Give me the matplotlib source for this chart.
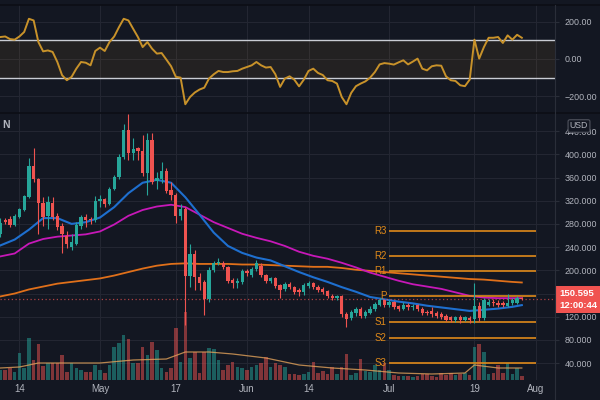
import numpy as np
import matplotlib.pyplot as plt

# day index: 0 = Apr 10, one candle per day
opens = [262, 286, 288, 278, 292, 304, 327, 380, 357, 316, 294, 316, 294, 276, 260, 241, 246, 276, 292, 289,
         286, 319, 323, 314, 341, 361, 396, 442, 403, 410, 405, 368, 425, 354, 357, 372, 338, 330, 294, 305,
         190, 228, 189, 179, 150, 200, 213, 213, 205, 184, 178, 180, 199, 192, 202, 207, 192, 182, 186, 175,
         168, 177, 171, 166, 163, 173, 178, 172, 167, 164, 156, 152, 155, 125, 117, 126, 134, 121, 127, 134,
         141, 148, 140, 145, 138, 134, 140, 136, 140, 133, 128, 130, 126, 124, 122, 119, 114, 120, 115, 118,
         116, 138, 117, 141, 146, 144, 143, 139, 143, 144, 152]
highs = [290, 290, 294, 297, 307, 330, 393, 411, 360, 326, 328, 326, 298, 282, 268, 262, 283, 295, 297, 292,
         328, 330, 325, 344, 365, 400, 453, 469, 428, 412, 433, 436, 436, 370, 387, 376, 352, 333, 315, 310,
         246, 235, 195, 184, 206, 216, 222, 216, 207, 187, 186, 202, 202, 206, 217, 212, 194, 189, 189, 177,
         180, 180, 173, 169, 178, 181, 180, 175, 171, 166, 159, 158, 157, 128, 131, 137, 137, 131, 138, 146,
         152, 150, 148, 147, 141, 146, 143, 142, 142, 136, 131, 137, 130, 128, 124, 122, 122, 123, 122, 121,
         178, 145, 152, 150, 150, 148, 147, 159, 152, 156, 154]
lows = [258, 280, 275, 276, 290, 302, 324, 352, 262, 276, 272, 286, 270, 229, 238, 235, 244, 272, 275, 280,
        283, 310, 310, 312, 338, 358, 392, 390, 390, 390, 362, 330, 348, 341, 350, 333, 321, 281, 287, 105,
        172, 166, 166, 123, 145, 197, 209, 202, 178, 170, 170, 177, 190, 188, 199, 189, 178, 178, 170, 152,
        165, 168, 160, 156, 158, 170, 168, 162, 160, 152, 149, 149, 119, 102, 114, 121, 117, 118, 124, 130,
        138, 136, 137, 133, 130, 132, 132, 131, 130, 123, 123, 120, 118, 116, 112, 111, 111, 110, 112, 110,
        110, 112, 115, 138, 138, 137, 136, 136, 140, 142, 148]
closes = [281, 283, 278, 293, 305, 328, 380, 357, 316, 292, 317, 292, 275, 262, 245, 248, 278, 292, 287, 286,
          320, 323, 314, 341, 361, 396, 442, 402, 409, 405, 368, 425, 353, 359, 372, 337, 330, 294, 305, 190,
          228, 189, 178, 150, 200, 213, 215, 205, 181, 178, 182, 199, 195, 203, 212, 192, 182, 186, 173, 166,
          177, 171, 163, 163, 174, 178, 172, 166, 163, 156, 153, 155, 124, 116, 128, 134, 121, 128, 134, 142,
          148, 140, 146, 137, 134, 141, 136, 139, 133, 126, 126, 125, 121, 120, 115, 115, 119, 114, 119, 114,
          138, 117, 148, 146, 143, 141, 141, 144, 149, 152, 150.595]
volumes = [10, 10, 12, 8, 27, 12, 42, 20, 36, 14, 17, 17, 17, 25, 8, 17, 12, 10, 8, 8,
           15, 10, 7, 15, 33, 37, 45, 41, 17, 17, 33, 25, 38, 30, 12, 8, 12, 52, 18, 68,
           22, 28, 7, 28, 32, 31, 20, 10, 15, 18, 13, 12, 10, 13, 15, 17, 23, 13, 17, 15,
           13, 6, 6, 5, 6, 8, 18, 7, 9, 6, 13, 6, 13, 26, 5, 7, 21, 9, 8, 15,
           10, 17, 10, 5, 4, 4, 4, 3, 4, 6, 6, 4, 3, 7, 5, 7, 5, 6, 7, 5,
           33, 36, 28, 6, 7, 15, 7, 17, 6, 12, 4]
cci = [118, 121, 107, 104, 121, 145, 216, 207, 91, 41, 46, 38, -16, -87, -114, -96, -52, -16, -20, -34,
       43, 61, 43, 91, 121, 171, 216, 207, 162, 118, 64, 91, 55, 29, 32, -3, -39, -96, -100, -243,
       -204, -180, -164, -154, -105, -82, -64, -70, -70, -66, -64, -52, -43, -34, -16, -34, -46, -43, -82, -150,
       -105, -93, -111, -147, -111, -64, -52, -75, -86, -114, -118, -132, -204, -243, -182, -146, -132, -120, -100, -70,
       -29, -22, -25, -30, -18, -7, -29, -14, 2, -52, -61, -39, -34, -36, -93, -114, -118, -141, -146, -111,
       104, 2, 64, 114, 114, 118, 86, 127, 104, 130, 114]

ma_days = [0, 3, 6, 9, 12, 15, 18, 21, 24, 27, 30, 33, 36, 39, 42, 45, 48, 51, 54, 57,
           60, 63, 66, 69, 72, 75, 78, 81, 84, 87, 90, 93, 96, 99, 102, 105, 108, 110]
ma_blue = [243, 253, 270, 290, 290, 280, 283, 291, 309, 333, 351, 356, 351, 326, 296, 265, 242, 230, 222, 217,
           207, 197, 188, 180, 171, 163, 154, 150, 146, 143, 139, 136, 133, 130, 132, 134, 137, 140]
ma_magenta = [224, 229, 246, 254, 258, 260, 262, 267, 279, 294, 304, 310, 313, 309, 296, 283, 273, 263, 256, 250,
              242, 232, 225, 220, 213, 205, 196, 189, 182, 176, 172, 168, 162, 156, 153, 152, 152, 152]
ma_orange = [155, 160, 167, 172, 177, 180, 183, 186, 191, 197, 203, 208, 211, 212, 211, 211, 211, 210, 210, 209,
             208, 207, 206, 206, 204, 201, 199, 197, 195, 193, 191, 189, 187, 185, 184, 182, 180, 179]
vol_ma_days = [0, 4, 6, 8, 14, 21, 28, 35, 39, 44, 49, 56, 63, 70, 77, 84, 91, 98, 100, 105, 110]
vol_ma = [12, 13, 15, 17, 17, 17, 20, 21, 28, 28, 26, 22, 15, 12, 10, 7, 6, 7, 15, 12, 12]

pivot_names = ['R3', 'R2', 'R1', 'P', 'S1', 'S2', 'S3']
pivot_values = [267, 225, 198, 155, 111, 84, 41]
pivot_start, pivot_end = 82, 113
last_price = 150.595
countdown = '12:00:44'

date_ticks = [4, 21, 37, 52, 65, 82, 100, 113]
date_labels = ['14', 'May', '17', 'Jun', '14', 'Jul', '19', 'Aug']
price_ticks = list(range(40, 441, 40))
cci_ticks = [-200, 0, 200]

BG = '#131722'
GRID = '#232632'
TXT = '#b2b5be'
UP = '#26a69a'
DOWN = '#ef5350'
plt.rcParams['font.family'] = ['Liberation Sans', 'DejaVu Sans']

fig = plt.figure(figsize=(6, 4), dpi=100, facecolor=BG)
W, H = 600, 400
plot_w = 555 / W
ax_cci = fig.add_axes([0, 1 - 113 / H, plot_w, 108 / H])
ax_vol = fig.add_axes([0, 1 - 380 / H, plot_w, 267 / H])
ax = fig.add_axes([0, 1 - 380 / H, plot_w, 267 / H], sharex=ax_vol)

days = np.arange(len(closes))
xlim = (-0.1, 117.0)
ylim = (10.9, 471.2)

# ---- CCI panel
ax_cci.set_facecolor(BG)
ax_cci.axhspan(-100, 100, color='#ffa726', alpha=0.07, lw=0)
ax_cci.axhline(100, color='#c9ccd4', lw=1)
ax_cci.axhline(-100, color='#c9ccd4', lw=1)
ax_cci.plot(days, cci, color='#c8922a', lw=1.4)
ax_cci.set_xlim(xlim)
ax_cci.set_ylim(-290, 290)
ax_cci.set_yticks(cci_ticks)
ax_cci.set_yticklabels(['\u2212200.00', '0.00', '200.00'])
ax_cci.set_xticks(date_ticks)
ax_cci.tick_params(axis='x', length=0, labelbottom=False)
ax_cci.grid(True, color=GRID, lw=0.8)
ax_cci.set_axisbelow(True)

# ---- volume (behind candles), also carries the price grid
ax_vol.set_facecolor(BG)
vol_colors = [UP if c >= o else DOWN for o, c in zip(opens, closes)]
ax_vol.bar(days, volumes, width=0.75, color=vol_colors, alpha=0.5, lw=0, zorder=2)
ax_vol.plot(vol_ma_days, vol_ma, color='#e2a25a', lw=0.9, alpha=0.8, zorder=3)
ax_vol.set_xlim(xlim)
ax_vol.set_ylim(0, 267)
ax_vol.set_yticks([])
ax_vol.set_xticks(date_ticks)
ax_vol.grid(True, axis='x', color=GRID, lw=0.8)
ax_vol.set_axisbelow(True)
for yv in price_ticks:
    ax_vol.axhline((yv - ylim[0]) / (ylim[1] - ylim[0]) * 267, color=GRID, lw=0.8, zorder=0)
ax_vol.tick_params(left=False, labelleft=False, bottom=False, labelbottom=False)

# ---- price panel
ax.patch.set_visible(False)
ax.set_xlim(xlim)
ax.set_ylim(ylim)
ax.set_xticks(date_ticks)
ax.set_xticklabels(date_labels)
ax.set_yticks(price_ticks)
ax.set_yticklabels([f'{v:.3f}' for v in price_ticks])

ax.plot(ma_days, ma_orange, color='#e0701a', lw=1.3)
ax.plot(ma_days, ma_magenta, color='#c718b8', lw=1.3)
ax.plot(ma_days, ma_blue, color='#1e6fcf', lw=1.5)

for name, val in zip(pivot_names, pivot_values):
    ax.hlines(val, pivot_start, pivot_end, color='#e08a1a', lw=1.2)
    ax.text(pivot_start - 0.5, val, name, color='#e08a1a', fontsize=7, ha='right', va='center')

ax.axhline(last_price, color=DOWN, lw=0.9, ls=(0, (1, 2)), alpha=0.7)

candle_colors = [UP if c >= o else DOWN for o, c in zip(opens, closes)]
ax.vlines(days, lows, highs, colors=candle_colors, lw=0.8, zorder=3)
bottoms = [min(o, c) for o, c in zip(opens, closes)]
heights = [max(abs(c - o), 0.8) for o, c in zip(opens, closes)]
ax.bar(days, heights, bottom=bottoms, width=0.7, color=candle_colors, lw=0, zorder=4)

for a in (ax, ax_cci, ax_vol):
    for s in a.spines.values():
        s.set_visible(False)
for a in (ax, ax_cci):
    a.yaxis.tick_right()
    a.tick_params(axis='y', length=3, color='#2a2e39', labelcolor=TXT, labelsize=6.4, pad=4)
ax.tick_params(axis='x', length=0, labelcolor=TXT, labelsize=7, pad=3)

# last price label
ax.annotate(f'{last_price:.3f}\n{countdown}', xy=(1.0, last_price), xycoords=('axes fraction', 'data'),
            xytext=(3, 7), textcoords='offset points', ha='left', va='top', color='white',
            fontsize=6.8, fontweight='bold', linespacing=1.35, zorder=10, annotation_clip=False,
            bbox=dict(boxstyle='square,pad=0.35', fc='#f05350', ec='none'))

# currency tag
fig.text(579 / W, 1 - 126 / H, 'USD', color=TXT, fontsize=6.3, ha='center', va='center',
         bbox=dict(boxstyle='round,pad=0.2', fc=BG, ec='#50535e', lw=0.8))
fig.text(2 / W, 1 - 125 / H, 'N', color=TXT, fontsize=7.5, fontweight='bold', ha='left', va='center')

# separators
fig.add_artist(plt.Line2D([0, 1], [1 - 113 / H] * 2, color='#0c0e15', lw=1.2))
fig.add_artist(plt.Line2D([0, 1], [1 - 5 / H] * 2, color='#0c0e15', lw=1.2))
fig.add_artist(plt.Line2D([plot_w] * 2, [0, 1 - 5 / H], color='#2a2e39', lw=0.8))

fig.savefig('out.png', dpi=100, facecolor=BG)
